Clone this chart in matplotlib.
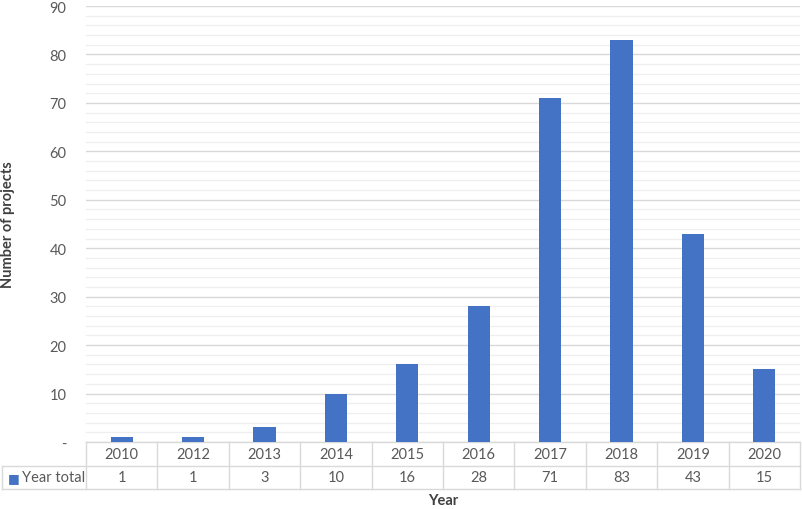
import matplotlib.pyplot as plt
import numpy as np
from matplotlib.ticker import MultipleLocator, FuncFormatter
import matplotlib.transforms as mtransforms

plt.rcParams['font.family'] = ['Lato', 'DejaVu Sans']
plt.rcParams['figure.dpi'] = 100

# data
years = ['2010', '2012', '2013', '2014', '2015', '2016', '2017', '2018', '2019', '2020']
totals = [1, 1, 3, 10, 16, 28, 71, 83, 43, 15]
series_name = 'Year total'

bar_col = '#4472C4'
txt_col = '#595959'
grid_col = '#d9d9d9'
fs = 10.5

fig = plt.figure(figsize=(8.03, 5.10))
ax = fig.add_axes([86/803, 1-443/510, 714/803, 436/510])

x = np.arange(len(years))
ax.bar(x, totals, width=0.31, color=bar_col, zorder=3)
ax.set_xlim(-0.5, len(years)-0.5)
ax.set_ylim(0, 90)

ax.yaxis.set_major_locator(MultipleLocator(10))
ax.yaxis.set_minor_locator(MultipleLocator(2))
ax.yaxis.set_major_formatter(FuncFormatter(lambda v, p: '-' if v == 0 else '%d' % v))
ax.grid(axis='y', which='major', color=grid_col, lw=1.0, zorder=0)
ax.grid(axis='y', which='minor', color='#efefef', lw=0.9, zorder=0)
ax.tick_params(axis='y', which='both', length=0, pad=14, labelsize=fs, labelcolor=txt_col)
ax.tick_params(axis='x', which='both', length=0, labelbottom=False)
for s in ax.spines.values():
    s.set_visible(False)

# data table under the chart (x in data units, y in axes units)
tr = mtransforms.blended_transform_factory(ax.transData, ax.transAxes)
row_h = 23.5/436
y_top, y_mid, y_bot = 0, -row_h, -2*row_h
left = -0.5 - 84/71.4
right = len(years) - 0.5
line_kw = dict(color=grid_col, lw=1.0, clip_on=False, transform=tr, zorder=1)
ax.plot([-0.5, right], [y_top, y_top], **line_kw)
ax.plot([left, right], [y_mid, y_mid], **line_kw)
ax.plot([left, right], [y_bot, y_bot], **line_kw)
ax.plot([left, left], [y_mid, y_bot], **line_kw)
for xi in np.arange(len(years) + 1) - 0.5:
    ax.plot([xi, xi], [y_top, y_bot], **line_kw)
for xi, yr, v in zip(x, years, totals):
    ax.text(xi, (y_top + y_mid)/2, yr, transform=tr, ha='center', va='center',
            fontsize=fs, color=txt_col)
    ax.text(xi, (y_mid + y_bot)/2, str(v), transform=tr, ha='center', va='center',
            fontsize=fs, color=txt_col)
ax.text(left + 6/71.4, (y_mid + y_bot)/2, '\u25a0', transform=tr, color=bar_col,
        fontsize=9, va='center', ha='left', family='DejaVu Sans')
ax.text(left + 20/71.4, (y_mid + y_bot)/2, series_name, transform=tr, color=txt_col,
        fontsize=fs, va='center', ha='left')

ax.set_ylabel('Number of projects', fontsize=fs, fontweight='bold', color='#404040')
ax.yaxis.set_label_coords(-71/714, 0.5)
fig.text(443/803, 1-501/510, 'Year', ha='center', va='center', fontsize=fs,
         fontweight='bold', color='#404040')

fig.savefig('out.png', dpi=100)
